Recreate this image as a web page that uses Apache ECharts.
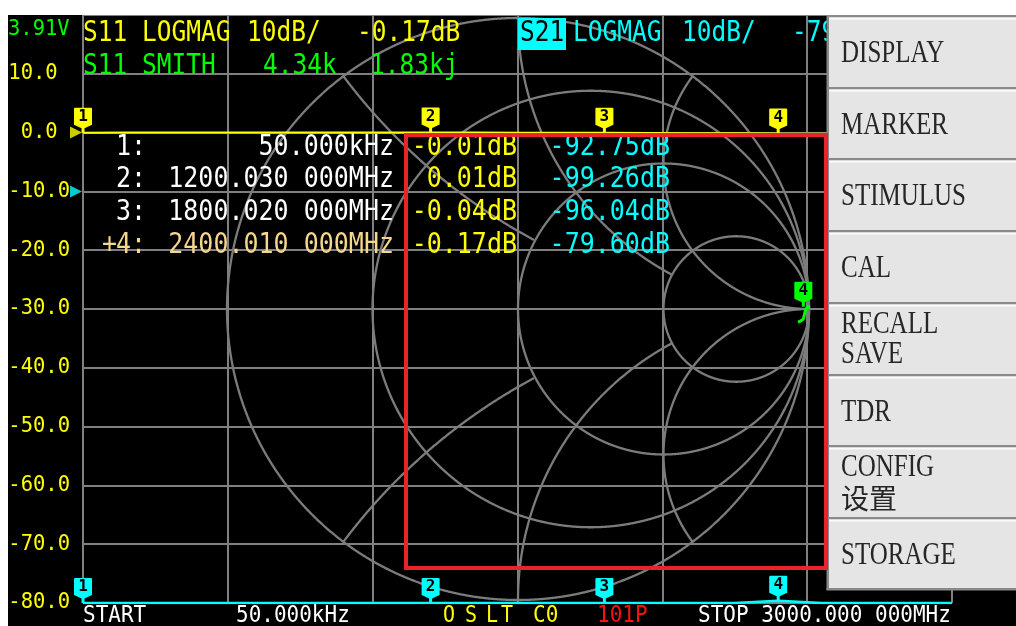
<!DOCTYPE html>
<html><head><meta charset="utf-8">
<script src="https://cdn.jsdelivr.net/npm/echarts@6/dist/echarts.min.js"></script>
<style>html,body{margin:0;padding:0;background:#fff;}#c{width:1016px;height:626px;}</style>
</head><body><div id="c"></div>
<script>
// ---------------- data ----------------
const freqMHz   = [0.05, 150, 300, 450, 600, 750, 900, 1050, 1200.03, 1350, 1500, 1650, 1800.02, 1950, 2100, 2250, 2400.01, 2550, 2700, 2850, 3000];
const s11LogMag = [-0.01, 0.00, 0.01, 0.00, 0.01, 0.00, 0.00, 0.01, 0.01, 0.00, -0.01, -0.02, -0.04, -0.07, -0.10, -0.13, -0.17, -0.20, -0.24, -0.28, -0.32];
const s21LogMag = [-92.75, -95.4, -97.1, -98.2, -97.6, -98.9, -99.5, -98.7, -99.26, -98.4, -97.9, -97.0, -96.04, -94.2, -91.5, -86.3, -79.60, -84.1, -88.0, -90.2, -91.0];

const markerIds      = ['1', '2', '3', '4'];
const markerFreqMHz  = [0.05, 1200.03, 1800.02, 2400.01];
const markerFreqText = ['50.000kHz', '1200.030 000MHz', '1800.020 000MHz', '2400.010 000MHz'];
const markerS11      = [-0.01, 0.01, -0.04, -0.17];
const markerS21      = [-92.75, -99.26, -96.04, -79.60];

// S11 on Smith chart (reflection coefficient, re / im)
const smithRe = [0.999, 0.998, 0.996, 0.993, 0.990, 0.986, 0.983, 0.980, 0.975, 0.968, 0.962];
const smithIm = [0.000, 0.012, 0.015, 0.010, 0.000, -0.012, -0.025, -0.035, -0.040, -0.043, -0.045];
const smithMarker = [0.9805, 0.008];
const smithImpedance = ['4.34k', '1.83kj'];

const refLevels = [0, -10];           // S11 ref, S21 ref (dB)
const yMin = -80, yMax = 20, yStep = 10;
const xStartMHz = 0, xStopMHz = 3000, xStepMHz = 500;

const smithR = [3, 1, 1 / 3];          // constant resistance circles
const smithX = [2, 1, 0.5];            // constant reactance arcs

const calLetters = ['O', 'S', 'L', 'T'];
const menuLabels = [['DISPLAY'], ['MARKER'], ['STIMULUS'], ['CAL'], ['RECALL', 'SAVE'], ['TDR'], ['CONFIG', '设置'], ['STORAGE']];

// ---------------- colours / fonts ----------------
const GRID = '#808080', YEL = '#ffff00', CYAN = '#00ffff', GREEN = '#00ff00', WHITE = '#ffffff', ORANGE = '#f5d68c';
const MONO = '"DejaVu Sans Mono"';

// ---------------- helpers ----------------
const clamp = v => Math.max(yMin, Math.min(yMax, v));
const dB = v => v.toFixed(2) + 'dB';

function rCircle(r) { return { cx: r / (1 + r), cy: 0, rad: 1 / (1 + r) }; }
function xCircle(x, s) { return { cx: 1, cy: s / x, rad: 1 / x }; }
const smithCircles = [
  Object.assign({ cx: 0, cy: 0, rad: 1 }, { excl: [] }),
  Object.assign(xCircle(smithX[0], 1), { excl: [] }),
  Object.assign(xCircle(smithX[0], -1), { excl: [] }),
  Object.assign(rCircle(smithR[0]), { excl: [] }),
  Object.assign(xCircle(smithX[1], 1), { excl: [rCircle(smithR[0])] }),
  Object.assign(xCircle(smithX[1], -1), { excl: [rCircle(smithR[0])] }),
  Object.assign(rCircle(smithR[1]), { excl: [rCircle(smithR[0])] }),
  Object.assign(xCircle(smithX[2], 1), { excl: [rCircle(smithR[0]), rCircle(smithR[1])] }),
  Object.assign(xCircle(smithX[2], -1), { excl: [rCircle(smithR[0]), rCircle(smithR[1])] }),
  Object.assign(rCircle(smithR[2]), { excl: [rCircle(smithR[0]), rCircle(smithR[1])] })
];

const PIN = 'path://M1,0 H17 Q18,0 18,1 V17 L10.5,20.5 V25 H7.5 V20.5 L0,17 V1 Q0,0 1,0 Z';
function pins(color, coords) {
  return {
    symbol: PIN, symbolSize: [18, 25], symbolOffset: [0, '-50%'], silent: true, animation: false,
    itemStyle: { color: color },
    label: { show: true, position: 'inside', offset: [0, -3.5], color: '#000', fontFamily: MONO, fontWeight: 'bold', fontSize: 16, formatter: '{b}' },
    data: coords.map(c => ({ name: c.name, coord: c.coord }))
  };
}

function txt(x, y, text, color, size, opt) {
  opt = opt || {};
  const align = opt.align || 'left';
  return {
    type: 'text', x: x, y: y, z: opt.z || 50, scaleY: opt.sy || 1.15, silent: true,
    style: {
      text: text, fill: color, font: (opt.weight || '') + ' ' + size + 'px ' + (opt.family || MONO),
      textAlign: align, align: align, textVerticalAlign: 'middle', verticalAlign: 'middle'
    }
  };
}

// ---------------- graphics (texts, menu, annotation) ----------------
const g = [];
g.push({ type: 'rect', z: 300, shape: { x: 0, y: 0, width: 1016, height: 15 }, style: { fill: '#fff' } });
g.push({ type: 'rect', z: 300, shape: { x: 0, y: 0, width: 8, height: 626 }, style: { fill: '#fff' } });

// battery
g.push(txt(8, 29, '3.91V', GREEN, 20.5, { sy: 1.05 }));
// header
g.push(txt(83, 34, 'S11 LOGMAG', YEL, 24.5));
g.push(txt(247, 34, '10dB/', YEL, 24.5));
g.push(txt(357, 34, dB(markerS11[3]), YEL, 24.5));
g.push(txt(83, 67, 'S11 SMITH', GREEN, 24.5));
g.push(txt(263, 67, smithImpedance[0], GREEN, 24.5));
g.push(txt(370, 67, smithImpedance[1], GREEN, 24.5));
g.push({ type: 'rect', z: 49, shape: { x: 518, y: 18, width: 48, height: 32 }, style: { fill: CYAN } });
g.push(txt(520, 34, 'S21', '#000', 24.5));
g.push(txt(573, 34, 'LOGMAG', CYAN, 24.5));
g.push(txt(682, 34, '10dB/', CYAN, 24.5));
g.push(txt(792, 34, dB(markerS21[3]), CYAN, 24.5));

// marker table
const rowY = [148, 180, 213, 246];
markerIds.forEach((id, i) => {
  const col = i === 3 ? ORANGE : WHITE;
  if (i === 3) g.push(txt(102, rowY[i], '+', ORANGE, 25));
  g.push(txt(116, rowY[i], id + ':', col, 25));
  g.push(txt(394, rowY[i], markerFreqText[i], col, 25, { align: 'right' }));
  g.push(txt(517, rowY[i], dB(markerS11[i]), YEL, 25, { align: 'right' }));
  g.push(txt(670, rowY[i], dB(markerS21[i]), CYAN, 25, { align: 'right' }));
});

// bottom status line
g.push(txt(83, 616, 'START', WHITE, 21, { sy: 1.1 }));
g.push(txt(236, 616, '50.000kHz', WHITE, 21, { sy: 1.1 }));
[443, 465, 486, 501].forEach((x, i) => g.push(txt(x, 616, calLetters[i], YEL, 20, { sy: 1.15 })));
g.push(txt(533, 616, 'C0', YEL, 21, { sy: 1.1 }));
g.push(txt(597, 616, '101P', '#ff1010', 21, { sy: 1.1 }));
g.push(txt(698, 616, 'STOP 3000.000 000MHz', WHITE, 21, { sy: 1.1 }));

// right menu
const btnTop = [15, 87, 158, 230, 302, 374, 445, 517], menuBottom = 588;
g.push({ type: 'rect', z: 150, shape: { x: 828, y: 15, width: 188, height: menuBottom - 15 }, style: { fill: '#e5e5e5' } });
btnTop.forEach((t, i) => {
  g.push({ type: 'rect', z: 151, shape: { x: 828, y: t, width: 188, height: 2.5 }, style: { fill: '#8a8a8a' } });
  g.push({ type: 'rect', z: 151, shape: { x: 828, y: t + 2.5, width: 188, height: 2 }, style: { fill: '#fbfbfb' } });
  const lines = menuLabels[i];
  const serif = { family: '"Liberation Serif"', sy: 1.25, z: 160 };
  if (lines.length === 1) {
    g.push(txt(841, t + 38.5, lines[0], '#262626', 25, serif));
  } else {
    g.push(txt(841, t + 23, lines[0], '#262626', 25, serif));
    const cjk = /[\u4e00-\u9fff]/.test(lines[1]);
    g.push(txt(841, t + 53, lines[1], '#262626', cjk ? 28 : 25, cjk ? { family: '"Noto Sans CJK SC"', sy: 1.0, z: 160 } : serif));
  }
});
g.push({ type: 'rect', z: 152, shape: { x: 826.5, y: 15, width: 2.5, height: menuBottom - 15 + 2 }, style: { fill: '#8a8a8a' } });
g.push({ type: 'rect', z: 152, shape: { x: 826.5, y: menuBottom, width: 190, height: 2.5 }, style: { fill: '#8a8a8a' } });

// red highlight box
g.push({ type: 'rect', z: 200, shape: { x: 406, y: 135, width: 420, height: 433 }, style: { fill: 'none', stroke: '#e8232c', lineWidth: 4 } });

// ---------------- chart ----------------
const chart = echarts.init(document.getElementById('c'), null, { renderer: 'canvas' });
chart.setOption({
  backgroundColor: '#000',
  animation: false,
  grid: [
    { left: 83, top: 15, width: 869, height: 588, outerBoundsMode: 'none', containLabel: false },
    { left: 227, top: 18, width: 582, height: 582, outerBoundsMode: 'none', containLabel: false }
  ],
  xAxis: [
    { gridIndex: 0, type: 'value', min: xStartMHz, max: xStopMHz, interval: xStepMHz,
      axisLine: { show: false }, axisTick: { show: false }, axisLabel: { show: false },
      splitLine: { show: true, lineStyle: { color: GRID, width: 2 } } },
    { gridIndex: 1, type: 'value', min: -1, max: 1, show: false }
  ],
  yAxis: [
    { gridIndex: 0, type: 'value', min: yMin, max: yMax, interval: yStep,
      axisLine: { show: false }, axisTick: { show: false },
      splitLine: { show: true, lineStyle: { color: GRID, width: 2 } },
      axisLabel: { show: true, color: YEL, fontFamily: MONO, fontSize: 20.5, margin: 13, align: 'right',
        formatter: v => v === yMax ? '' : (v >= 0 ? v.toFixed(1) + ' ' : v.toFixed(1)) } },
    { gridIndex: 1, type: 'value', min: -1, max: 1, show: false }
  ],
  graphic: { elements: g },
  series: [
    { // Smith chart grid
      type: 'custom', xAxisIndex: 1, yAxisIndex: 1, silent: true, clip: false, z: 1,
      data: smithCircles.map(c => [c.cx, c.cy, c.rad]),
      renderItem: function (params, api) {
        const c = smithCircles[params.dataIndex];
        const N = 2400, runs = []; let cur = null;
        for (let k = 0; k <= N; k++) {
          const t = 2 * Math.PI * k / N;
          const u = c.cx + c.rad * Math.cos(t), v = c.cy + c.rad * Math.sin(t);
          let ok = u * u + v * v <= 1.000001;
          for (const e of c.excl) {
            if (ok && ((u - e.cx) ** 2 + (v - e.cy) ** 2) < e.rad * e.rad * 0.9999) ok = false;
          }
          if (ok) { if (!cur) { cur = []; runs.push(cur); } cur.push(api.coord([u, v])); } else cur = null;
        }
        return { type: 'group', children: runs.filter(r => r.length > 1).map(pts => ({
          type: 'polyline', shape: { points: pts }, style: { stroke: '#7c7c7c', lineWidth: 2.3, fill: 'none' } })) };
      }
    },
    { // Smith horizontal axis
      type: 'line', xAxisIndex: 1, yAxisIndex: 1, silent: true, symbol: 'none', z: 1,
      data: [[-1, 0], [1, 0]], lineStyle: { color: GRID, width: 2 }
    },
    { // S21 LOGMAG
      name: 'S21 LOGMAG', type: 'line', xAxisIndex: 0, yAxisIndex: 0, symbol: 'none', z: 3, clip: true,
      data: freqMHz.map((f, i) => [f, clamp(s21LogMag[i])]),
      lineStyle: { color: CYAN, width: 2.5 },
      markPoint: pins(CYAN, markerIds.map((id, i) => ({ name: id, coord: [markerFreqMHz[i], clamp(markerS21[i])] })))
    },
    { // S11 LOGMAG
      name: 'S11 LOGMAG', type: 'line', xAxisIndex: 0, yAxisIndex: 0, symbol: 'none', z: 4,
      data: freqMHz.map((f, i) => [f, clamp(s11LogMag[i])]),
      lineStyle: { color: YEL, width: 2 },
      markPoint: pins(YEL, markerIds.map((id, i) => ({ name: id, coord: [markerFreqMHz[i], clamp(markerS11[i])] })))
    },
    { // reference level triangles
      type: 'scatter', xAxisIndex: 0, yAxisIndex: 0, silent: true, clip: false, z: 5,
      symbol: 'triangle', symbolRotate: -90, symbolSize: [12, 12], symbolOffset: [-7, 0],
      data: [{ value: [xStartMHz, refLevels[0]], itemStyle: { color: YEL } },
             { value: [xStartMHz, refLevels[1]], itemStyle: { color: CYAN } }]
    },
    { // S11 SMITH
      name: 'S11 SMITH', type: 'line', xAxisIndex: 1, yAxisIndex: 1, symbol: 'none', z: 6, clip: false,
      data: smithRe.map((r, i) => [r, smithIm[i]]),
      lineStyle: { color: GREEN, width: 3 },
      markPoint: pins(GREEN, [{ name: markerIds[3], coord: smithMarker }])
    }
  ]
});
</script>
</body></html>
